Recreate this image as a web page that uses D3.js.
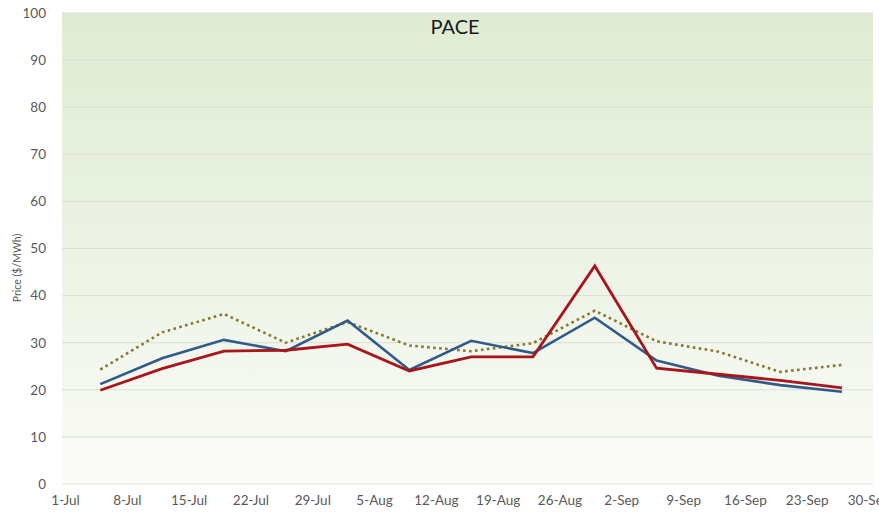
<!DOCTYPE html>
<html lang="en">
<head>
<meta charset="UTF-8">
<title>PACE</title>
<script src="https://cdn.jsdelivr.net/npm/d3@7"></script>
<style>
    body { margin: 0; background: #fff; font-family: Lato, "Open Sans", sans-serif; }
    .tick text { fill: #595959; font-size: 13.5px; font-family: Lato, sans-serif; }
    .line { fill: none; stroke-linejoin: miter; }
</style>
</head>
<body>
<svg id="chart" width="879" height="512"></svg>
<script>
// weekly dates (Jul-Sep)
const dates = ["07-05", "07-12", "07-19", "07-26", "08-02", "08-09", "08-16",
               "08-23", "08-30", "09-06", "09-13", "09-20", "09-27"];
const redSeries = [19.9, 24.5, 28.2, 28.4, 29.7, 24.0, 27.0, 27.0, 46.3, 24.6, 23.3, 22.0, 20.4];
const blueSeries = [21.2, 26.7, 30.6, 28.2, 34.7, 24.2, 30.4, 27.8, 35.3, 26.2, 23.0, 21.0, 19.6];
const dottedSeries = [24.3, 32.2, 36.1, 30.0, 34.4, 29.4, 28.2, 29.9, 36.8, 30.3, 28.1, 23.8, 25.3];
const xTicks = ["07-01", "07-08", "07-15", "07-22", "07-29", "08-05", "08-12", "08-19",
                "08-26", "09-02", "09-09", "09-16", "09-23", "09-30"];
const yTicks = [0, 10, 20, 30, 40, 50, 60, 70, 80, 90, 100];

const parse = d3.timeParse("%Y-%m-%d");
const toDate = s => parse("2013-" + s);

const plotLeft = 62, plotRight = 873, plotTop = 13, plotBottom = 484;

const svg = d3.select("#chart");

const x = d3.scaleTime()
    .domain([toDate("07-01"), toDate("09-30")])
    .range([65, 868.5]);
const y = d3.scaleLinear().domain([0, 100]).range([plotBottom, plotTop]);

// plot area gradient
const grad = svg.append("defs").append("linearGradient")
    .attr("id", "bg").attr("x1", 0).attr("y1", 0).attr("x2", 0).attr("y2", 1);
grad.append("stop").attr("offset", "0%").attr("stop-color", "#dfecd3");
grad.append("stop").attr("offset", "55%").attr("stop-color", "#edf3e6");
grad.append("stop").attr("offset", "100%").attr("stop-color", "#fbfcf8");

svg.append("rect")
    .attr("x", plotLeft).attr("y", plotTop)
    .attr("width", plotRight - plotLeft).attr("height", plotBottom - plotTop)
    .attr("fill", "url(#bg)");

// gridlines
svg.append("g").selectAll("line")
    .data(yTicks)
    .enter().append("line")
    .attr("x1", plotLeft).attr("x2", plotRight)
    .attr("y1", d => y(d)).attr("y2", d => y(d))
    .attr("stroke", d => d === 0 ? "#e2e2de" : "#d9dfd3")
    .attr("stroke-width", 1);

// y axis
const yAxis = svg.append("g")
    .attr("transform", `translate(${plotLeft - 16},0)`)
    .call(d3.axisLeft(y).tickValues(yTicks).tickSize(0).tickPadding(0));
yAxis.select(".domain").remove();

// x axis
const xAxis = svg.append("g")
    .attr("transform", `translate(0,${plotBottom + 6})`)
    .call(d3.axisBottom(x)
        .tickValues(xTicks.map(toDate))
        .tickFormat(d3.timeFormat("%-d-%b"))
        .tickSize(0).tickPadding(5));
xAxis.select(".domain").remove();

// title
svg.append("text")
    .attr("x", 455).attr("y", 34)
    .attr("text-anchor", "middle")
    .attr("font-size", "20px")
    .attr("font-weight", "normal")
    .attr("fill", "#1a1a1a")
    .text("PACE");

// y label
svg.append("text")
    .attr("transform", "rotate(-90)")
    .attr("x", -268).attr("y", 21)
    .attr("text-anchor", "middle")
    .attr("font-size", "10.5px")
    .attr("fill", "#595959")
    .text("Price ($/MWh)");

const line = d3.line()
    .x((d, i) => x(toDate(dates[i])))
    .y(d => y(d));

svg.append("path").datum(dottedSeries)
    .attr("class", "line")
    .attr("d", line)
    .attr("stroke", "#86762e")
    .attr("stroke-width", 2.6)
    .attr("stroke-dasharray", "2.6,3.4");

svg.append("path").datum(blueSeries)
    .attr("class", "line")
    .attr("d", line)
    .attr("stroke", "#2f5b88")
    .attr("stroke-width", 2.6);

svg.append("path").datum(redSeries)
    .attr("class", "line")
    .attr("d", line)
    .attr("stroke", "#a8161c")
    .attr("stroke-width", 2.8);
</script>
</body>
</html>
